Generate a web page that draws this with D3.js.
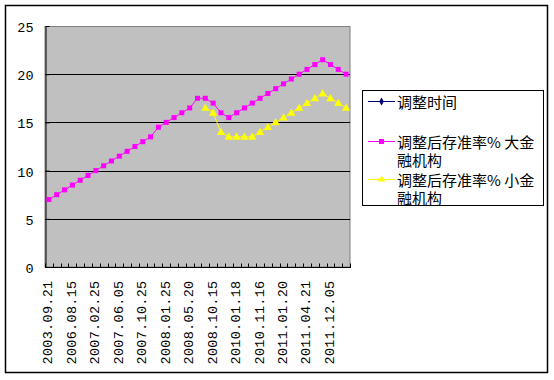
<!DOCTYPE html>
<html>
<head>
<meta charset="utf-8">
<script src="https://cdn.jsdelivr.net/npm/d3@7"></script>
<style>
  body { margin: 0; background: #fff; }
  svg { display: block; }
</style>
</head>
<body>
<svg id="chart"></svg>
<script>
// 调整时间
const dates = ['2003.09.21','2004.04.25','2006.07.05','2006.08.15','2006.11.15','2007.01.15',
  '2007.02.25','2007.04.16','2007.05.15','2007.06.05','2007.08.15','2007.09.25','2007.10.25',
  '2007.11.26','2007.12.25','2008.01.25','2008.03.25','2008.04.25','2008.05.20','2008.06.25',
  '2008.09.25','2008.10.15','2008.12.05','2008.12.25','2010.01.18','2010.02.25','2010.05.10',
  '2010.11.16','2010.11.29','2010.12.20','2011.01.20','2011.02.24','2011.03.25','2011.04.21',
  '2011.05.18','2011.06.20','2011.12.05','2012.02.24','2012.05.18'];
// 大金融机构
const largeRate = [7,7.5,8,8.5,9,9.5,10,10.5,11,11.5,12,12.5,13,13.5,14.5,15,15.5,16,16.5,17.5,
  17.5,17,16,15.5,16,16.5,17,17.5,18,18.5,19,19.5,20,20.5,21,21.5,21,20.5,20];
// 小金融机构
const smallRate = [null,null,null,null,null,null,null,null,null,null,null,null,null,null,null,null,null,null,null,null,
  16.5,16,14,13.5,13.5,13.5,13.5,14,14.5,15,15.5,16,16.5,17,17.5,18,17.5,17,16.5];
const yTicks = [0,5,10,15,20,25];
const legendLines = [['调整时间'], ['调整后存准率% 大金', '融机构'], ['调整后存准率% 小金', '融机构']];

const width = 554, height = 380;
const plot = {left: 45, right: 350, top: 26, bottom: 267};

const svg = d3.select('#chart').attr('width', width).attr('height', height);

// 外框
svg.append('rect')
  .attr('x', 5.5).attr('y', 5.5)
  .attr('width', 542).attr('height', 367)
  .attr('fill', '#fff').attr('stroke', '#000').attr('stroke-width', 1.5);

const xscale = d3.scaleBand().domain(d3.range(dates.length)).range([plot.left, plot.right]);
const yscale = d3.scaleLinear().domain([0, 25]).range([plot.bottom, plot.top]);

// 绘图区
svg.append('rect')
  .attr('x', plot.left).attr('y', plot.top + 0.5)
  .attr('width', plot.right - plot.left).attr('height', plot.bottom - plot.top - 0.5)
  .attr('fill', '#c0c0c0').attr('stroke', '#808080').attr('stroke-width', 1);

// 网格线
svg.append('g').selectAll('line')
  .data(yTicks.filter(d => d > 0 && d < 25))
  .join('line')
  .attr('x1', plot.left).attr('x2', plot.right)
  .attr('y1', d => Math.round(yscale(d)) + 0.5).attr('y2', d => Math.round(yscale(d)) + 0.5)
  .attr('stroke', '#000').attr('stroke-width', 1);

// y轴
const yaxis = d3.axisLeft(yscale).tickValues(yTicks).tickSizeInner(-4).tickSizeOuter(0).tickPadding(12);
svg.append('g')
  .attr('transform', `translate(${plot.left + 0.5},0)`)
  .call(yaxis)
  .call(g => g.select('.domain').attr('stroke', '#000'))
  .call(g => g.selectAll('text').attr('font-family', '"Liberation Mono", monospace')
    .attr('font-size', 13.5).attr('dy', '0.4em').attr('fill', '#000'));

// x轴
const xaxis_group = svg.append('g')
  .attr('transform', `translate(0,${plot.bottom + 0.5})`);
xaxis_group.append('line')
  .attr('x1', plot.left).attr('x2', plot.right + 1)
  .attr('stroke', '#000');
xaxis_group.selectAll('.tick')
  .data(d3.range(dates.length + 1))
  .join('line')
  .attr('class', 'tick')
  .attr('x1', i => Math.round(plot.left + i * xscale.step()) + 0.5)
  .attr('x2', i => Math.round(plot.left + i * xscale.step()) + 0.5)
  .attr('y1', -4).attr('y2', 0)
  .attr('stroke', '#000');
xaxis_group.selectAll('.label')
  .data(d3.range(0, dates.length, 3))
  .join('text')
  .attr('class', 'label')
  .attr('transform', i => `translate(${xscale(i) + xscale.bandwidth() / 2},13) rotate(-90)`)
  .attr('text-anchor', 'end')
  .attr('dominant-baseline', 'central')
  .attr('font-family', '"Liberation Mono", monospace')
  .attr('font-size', 13.5)
  .attr('letter-spacing', 0.3)
  .text(i => dates[i]);

const cx = i => xscale(i) + xscale.bandwidth() / 2;

// 大金融机构
const large = largeRate.map((v, i) => ({i, v}));
svg.append('path')
  .datum(large)
  .attr('d', d3.line().x(d => cx(d.i)).y(d => yscale(d.v)))
  .attr('fill', 'none').attr('stroke', '#ff00ff').attr('stroke-width', 1);
svg.append('g').selectAll('rect')
  .data(large)
  .join('rect')
  .attr('x', d => cx(d.i) - 2.5).attr('y', d => yscale(d.v) - 2.5)
  .attr('width', 5).attr('height', 5)
  .attr('fill', '#ff00ff');

// 小金融机构
const small = smallRate.map((v, i) => ({i, v})).filter(d => d.v !== null);
const tri = d3.symbol().type(d3.symbolTriangle).size(30);
svg.append('path')
  .datum(small)
  .attr('d', d3.line().x(d => cx(d.i)).y(d => yscale(d.v)))
  .attr('fill', 'none').attr('stroke', '#ffff00').attr('stroke-width', 1);
svg.append('g').selectAll('path')
  .data(small)
  .join('path')
  .attr('d', tri)
  .attr('transform', d => `translate(${cx(d.i)},${yscale(d.v) + 0.5})`)
  .attr('fill', '#ffff00');

// 图例
const legend = svg.append('g');
legend.append('rect')
  .attr('x', 362.5).attr('y', 90.5).attr('width', 181).attr('height', 115)
  .attr('fill', '#fff').attr('stroke', '#000');
const legendRows = [
  {y: 101.5, color: '#000080', marker: d3.symbolDiamond, size: 18},
  {y: 141.5, color: '#ff00ff', marker: d3.symbolSquare, size: 25},
  {y: 179.5, color: '#ffff00', marker: d3.symbolTriangle, size: 22}
];
legendRows.forEach((row, k) => {
  legend.append('line')
    .attr('x1', 368).attr('x2', 395).attr('y1', row.y).attr('y2', row.y)
    .attr('stroke', row.color).attr('stroke-width', 1);
  legend.append('path')
    .attr('d', d3.symbol().type(row.marker).size(row.size))
    .attr('transform', `translate(381.5,${row.y})`)
    .attr('fill', row.color);
  legendLines[k].forEach((s, j) => {
    legend.append('text')
      .attr('x', 397).attr('y', row.y + j * 17.5)
      .attr('font-family', '"Noto Sans CJK SC", sans-serif')
      .attr('font-size', 15)
      .attr('dominant-baseline', 'central')
      .text(s);
  });
});
</script>
</body>
</html>
